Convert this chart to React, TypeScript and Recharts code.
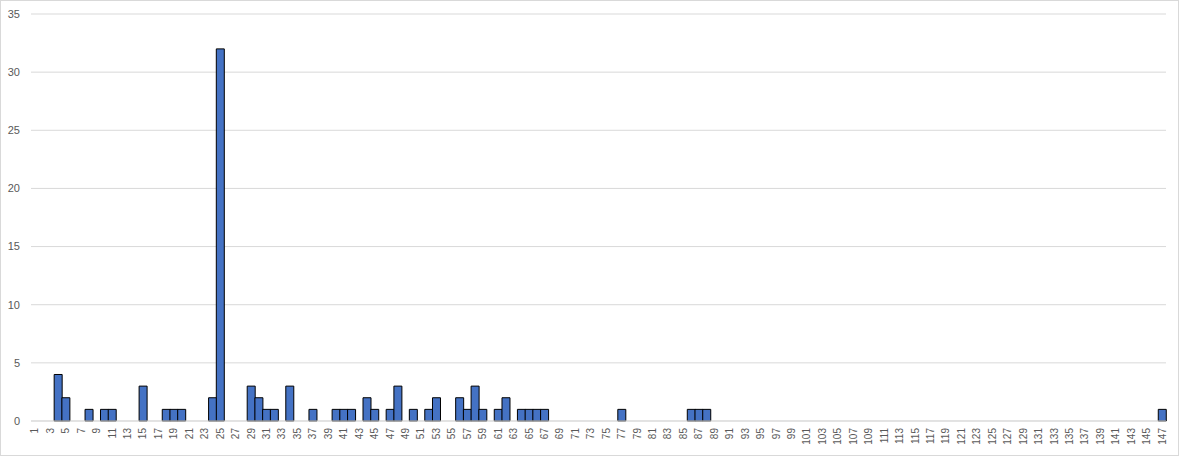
import React from "react";
import { BarChart, Bar, XAxis, YAxis, CartesianGrid } from "recharts";

const counts: number[] = [
  0, 0, 0, 4, 2, 0, 0, 1, 0, 1,
  1, 0, 0, 0, 3, 0, 0, 1, 1, 1,
  0, 0, 0, 2, 32, 0, 0, 0, 3, 2,
  1, 1, 0, 3, 0, 0, 1, 0, 0, 1,
  1, 1, 0, 2, 1, 0, 1, 3, 0, 1,
  0, 1, 2, 0, 0, 2, 1, 3, 1, 0,
  1, 2, 0, 1, 1, 1, 1, 0, 0, 0,
  0, 0, 0, 0, 0, 0, 1, 0, 0, 0,
  0, 0, 0, 0, 0, 1, 1, 1, 0, 0,
  0, 0, 0, 0, 0, 0, 0, 0, 0, 0,
  0, 0, 0, 0, 0, 0, 0, 0, 0, 0,
  0, 0, 0, 0, 0, 0, 0, 0, 0, 0,
  0, 0, 0, 0, 0, 0, 0, 0, 0, 0,
  0, 0, 0, 0, 0, 0, 0, 0, 0, 0,
  0, 0, 0, 0, 0, 0, 1,
];

const categories: string[] = counts.map((_, i) => String(i + 1));
const yTicks: number[] = [0, 5, 10, 15, 20, 25, 30, 35];

const data = categories.map((c, i) => ({ name: c, value: counts[i] }));

const FONT = "'Liberation Sans', Arial, sans-serif";
const TEXT = "#595959";

const XTick = (props: any) => {
  const { x, y, payload } = props;
  const ty = y + 7;
  return (
    <text
      x={x}
      y={ty}
      transform={`rotate(-90, ${x}, ${ty})`}
      textAnchor="end"
      dominantBaseline="central"
      fontSize={10}
      fontFamily={FONT}
      fill={TEXT}
    >
      {payload.value}
    </text>
  );
};

export default function App() {
  return (
    <div style={{ position: "absolute", left: 0, top: 0, width: 1179, height: 456, background: "#fff" }}>
      <BarChart
        width={1179}
        height={456}
        data={data}
        margin={{ top: 14, right: 13, left: 0, bottom: 0 }}
        barCategoryGap={0}
        barGap={0}
      >
        <CartesianGrid vertical={false} stroke="#d9d9d9" strokeWidth={1} />
        <XAxis
          dataKey="name"
          interval={1}
          height={35}
          tickSize={0}
          tickMargin={0}
          tickLine={false}
          axisLine={{ stroke: "#d9d9d9" }}
          tick={<XTick />}
        />
        <YAxis
          width={31}
          domain={[0, 35]}
          ticks={yTicks}
          interval={0}
          tickLine={false}
          axisLine={false}
          tickSize={6}
          tickMargin={5}
          tick={{ fontSize: 11, fontFamily: FONT, fill: TEXT }}
        />
        <Bar dataKey="value" fill="#4472C4" stroke="#000" strokeWidth={1} isAnimationActive={false} />
      </BarChart>
      <div
        style={{
          position: "absolute",
          left: 0,
          top: 0,
          width: 1179,
          height: 456,
          boxSizing: "border-box",
          border: "1px solid #d9d9d9",
          pointerEvents: "none",
        }}
      />
    </div>
  );
}
